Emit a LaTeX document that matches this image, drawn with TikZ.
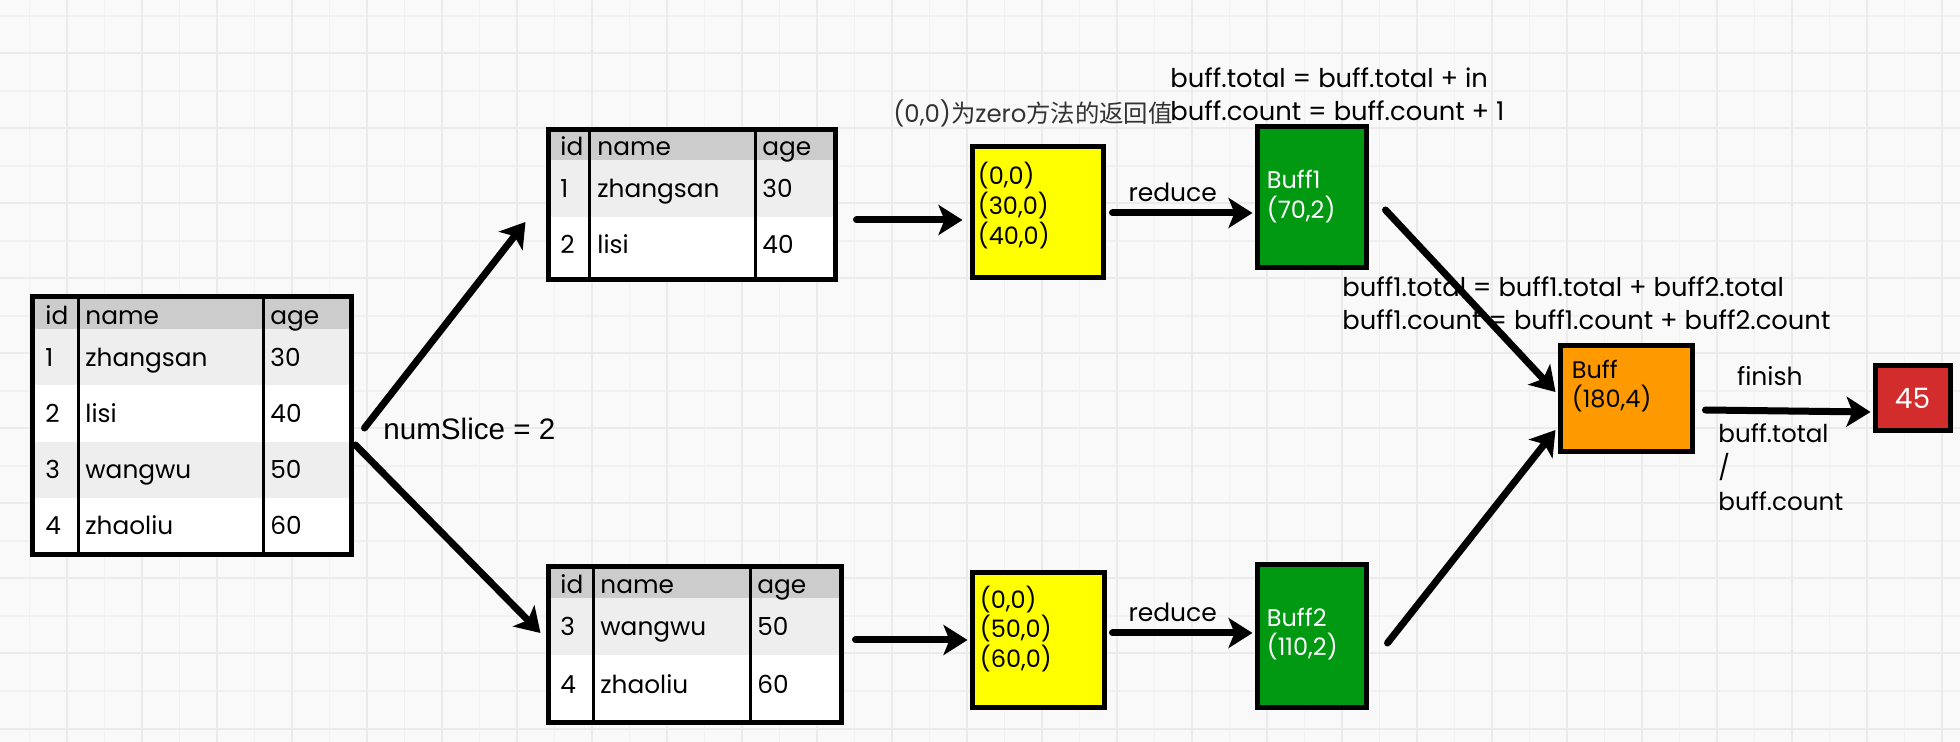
\documentclass[tikz,border=0pt]{standalone}
\usepackage{fontspec}
\setmainfont{Poppins}
\newfontfamily\cjk{Noto Sans CJK SC}
\newfontfamily\plainsans{Liberation Sans}
\usetikzlibrary{fit}
\usetikzlibrary{arrows.meta}

\definecolor{paper}{RGB}{249,249,249}
\definecolor{paperminor}{RGB}{241,241,241}
\definecolor{papermajor}{RGB}{235,235,235}
\definecolor{headgray}{RGB}{204,204,204}
\definecolor{stripegray}{RGB}{238,238,238}
\definecolor{zeroyellow}{RGB}{255,255,0}
\definecolor{buffgreen}{RGB}{0,153,17}
\definecolor{totalorange}{RGB}{255,153,0}
\definecolor{resultred}{RGB}{211,44,44}

\tikzstyle{paper minor}=[paperminor, line width=0.6pt]
\tikzstyle{paper major}=[papermajor, line width=1pt]
\tikzstyle{table frame}=[draw, line width=2.5pt, inner sep=0]
\tikzstyle{column rule}=[line width=1.5pt]
\tikzstyle{cell text}=[anchor=base west, inner sep=0, font=\fontsize{12.4}{14}\selectfont]
\tikzstyle{buffer}=[draw, line width=2.5pt, inner sep=0]
\tikzstyle{buffer text}=[anchor=west, inner sep=0, align=left, font=\fontsize{12}{14.8}\selectfont]
\tikzstyle{note}=[inner sep=0, align=left, font=\fontsize{12.5}{16.5}\selectfont]
\tikzstyle{formula}=[note, anchor=west, font=\fontsize{12.9}{16.5}\selectfont]
\tikzstyle{flow}=[line width=3.5pt, line cap=round, -{Stealth[length=12pt,width=15pt,inset=3pt]}]

\begin{document}
\begin{tikzpicture}[x=0.5pt, y=-0.5pt]
  \useasboundingbox (0,0) rectangle (1960,742);
  \fill[paper] (0,0) rectangle (1960,742);
  \foreach \gx in {29.5,104.5,...,1960} \draw[paper minor] (\gx,0) -- (\gx,742);
  \foreach \gy in {16,91,...,742} \draw[paper minor] (0,\gy) -- (1960,\gy);
  \foreach \gx in {67,142,...,1960} \draw[paper major] (\gx,0) -- (\gx,742);
  \foreach \gy in {53.5,128.5,...,742} \draw[paper major] (0,\gy) -- (1960,\gy);

  % source table
  \fill[headgray] (32,297) rectangle (351,329);
  \fill[stripegray] (32,329) rectangle (351,385);
  \fill[white] (32,385) rectangle (351,442);
  \fill[stripegray] (32,442) rectangle (351,498);
  \fill[white] (32,498) rectangle (351,555);
  \draw[column rule] (78,297) -- (78,555) (263,297) -- (263,555);
  \node[table frame, fit={(32,297) (351,555)}] (source) {};
  \node[cell text] (source_id) at (45,325) {id};
  \node[cell text] (source_name) at (85,325) {name};
  \node[cell text] (source_age) at (270,325) {age};
  \foreach \id/\name/\age/\y in {1/zhangsan/30/367, 2/lisi/40/423, 3/wangwu/50/479, 4/zhaoliu/60/535} {
    \node[cell text] (source_id\id) at (45,\y) {\id};
    \node[cell text] (source_name\id) at (85,\y) {\name};
    \node[cell text] (source_age\id) at (270,\y) {\age};
  }

  % first slice
  \fill[headgray] (548,130) rectangle (835,160);
  \fill[stripegray] (548,160) rectangle (835,217);
  \fill[white] (548,217) rectangle (835,280);
  \draw[column rule] (589,130) -- (589,280) (755,130) -- (755,280);
  \node[table frame, fit={(548,130) (835,280)}] (slice1) {};
  \node[cell text] (slice1_id) at (560,156) {id};
  \node[cell text] (slice1_name) at (597,156) {name};
  \node[cell text] (slice1_age) at (762,156) {age};
  \foreach \id/\name/\age/\y in {1/zhangsan/30/198, 2/lisi/40/254} {
    \node[cell text] (slice1_id\id) at (560,\y) {\id};
    \node[cell text] (slice1_name\id) at (597,\y) {\name};
    \node[cell text] (slice1_age\id) at (762,\y) {\age};
  }

  % second slice
  \fill[headgray] (548,567) rectangle (841,598);
  \fill[stripegray] (548,598) rectangle (841,655);
  \fill[white] (548,655) rectangle (841,722);
  \draw[column rule] (593,567) -- (593,722) (750,567) -- (750,722);
  \node[table frame, fit={(548,567) (841,722)}] (slice2) {};
  \node[cell text] (slice2_id) at (560,594) {id};
  \node[cell text] (slice2_name) at (600,594) {name};
  \node[cell text] (slice2_age) at (757,594) {age};
  \foreach \id/\name/\age/\y in {3/wangwu/50/636, 4/zhaoliu/60/693} {
    \node[cell text] (slice2_id\id) at (560,\y) {\id};
    \node[cell text] (slice2_name\id) at (600,\y) {\name};
    \node[cell text] (slice2_age\id) at (757,\y) {\age};
  }

  % buffers
  \node[buffer, fill=zeroyellow, fit={(972,147) (1103,278)}] (zero1) {};
  \node[buffer text] (zero1_text) at ([shift={(8,-7)}]zero1.west) {(0,0)\\(30,0)\\(40,0)};
  \node[buffer, fill=zeroyellow, fit={(972,573) (1104,707)}] (zero2) {};
  \node[buffer text] (zero2_text) at ([shift={(10,-11)}]zero2.west) {(0,0)\\(50,0)\\(60,0)};
  \node[buffer, fill=buffgreen, fit={(1257,127) (1366,268)}] (buff1) {};
  \node[buffer text, white] (buff1_text) at ([shift={(12,-1)}]buff1.west) {Buff1\\(70,2)};
  \node[buffer, fill=buffgreen, fit={(1257,565) (1366,707)}] (buff2) {};
  \node[buffer text, white] (buff2_text) at ([shift={(12,-2)}]buff2.west) {Buff2\\(110,2)};
  \node[buffer, fill=totalorange, fit={(1560,346) (1692,452)}] (total) {};
  \node[buffer text] (total_text) at ([shift={(14,-13)}]total.west) {Buff\\(180,4)};
  \node[buffer, fill=resultred, fit={(1875,366) (1950,431)}] (result) {};
  \node[font=\fontsize{14}{16}\selectfont, white] (result_text) at (result) {45};

  % notes
  \node[note, anchor=west, black!80, font=\fontsize{12.2}{16}\selectfont] (zero_note) at (893,113) {(0,0){\cjk 为}zero{\cjk 方法的返回值}};
  \node[formula] (reduce_note) at (1170,94.5) {buff.total = buff.total + in\\buff.count = buff.count + 1};
  \node[formula] (merge_note) at (1342,303.5) {buff1.total = buff1.total + buff2.total\\buff1.count = buff1.count + buff2.count};
  \node[note, anchor=base west, font=\plainsans\fontsize{14.8}{16}\selectfont] (slice_note) at (383,440) {numSlice = 2};
  \node[note, anchor=north west, font=\fontsize{12.3}{17}\selectfont] (finish_note) at (1718,423) {buff.total\\/\\buff.count};

  % flows
  \draw[flow] ([shift={(11,2)}]source.east) -- ([shift={(-20,17)}]slice1.west);
  \draw[flow] ([shift={(2,19)}]source.east) -- ([shift={(-5,-11.5)}]slice2.west);
  \draw[flow] ([shift={(19,15)}]slice1.east) -- ([shift={(-7,7.5)}]zero1.west);
  \draw[flow] ([shift={(12,-4.5)}]slice2.east) -- ([shift={(-2,0)}]zero2.west);
  \draw[flow] ([shift={(7,0.5)}]zero1.east) -- node[note, above=4pt, pos=0.43] {reduce} ([shift={(-2,15.5)}]buff1.west);
  \draw[flow] ([shift={(6,-7)}]zero2.east) -- node[note, above=4pt, pos=0.43] {reduce} ([shift={(-2,-3)}]buff2.west);
  \draw[flow] ([shift={(17,12.5)}]buff1.east) -- ([shift={(-2,-7)}]total.west);
  \draw[flow] ([shift={(19,7)}]buff2.east) -- ([shift={(-2,31)}]total.west);
  \draw[flow] ([shift={(11,11)}]total.east) -- node[note, above=11pt, pos=0.39] {finish} ([shift={(-2,13.5)}]result.west);
\end{tikzpicture}
\end{document}
